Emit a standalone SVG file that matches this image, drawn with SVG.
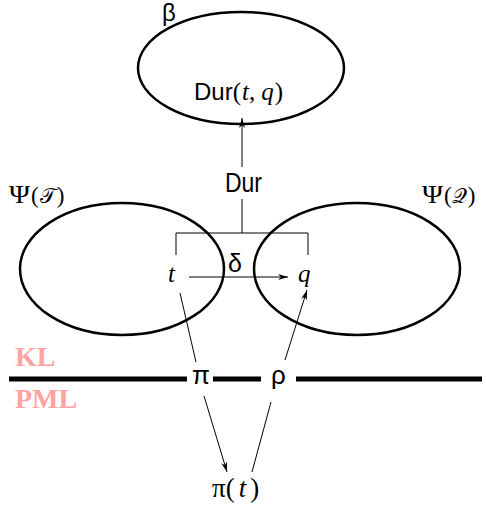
<svg xmlns="http://www.w3.org/2000/svg" width="486" height="508" viewBox="0 0 486 508">
  <style>
    .region { fill: none; stroke: #000; stroke-width: 2.5; }
    .thin { fill: none; stroke: #000; stroke-width: 1; }
    .arrow { fill: none; stroke: #000; stroke-width: 1; marker-end: url(#head); }
    .layer { fill: none; stroke: #000; stroke-width: 5; }
    .sans { font-family: "Liberation Sans", Arial, sans-serif; fill: #000; }
    .serif { font-family: "Liberation Serif", "Times New Roman", serif; fill: #000; }
    .math { font-family: "Liberation Serif", "Times New Roman", serif; font-style: italic; fill: #000; }
    .script { font-family: "DejaVu Serif", "Liberation Serif", serif; font-style: normal; fill: #000; }
    .level { font-family: "Liberation Serif", "Times New Roman", serif; font-weight: bold; font-size: 28px; fill: #ffa3a3; }
  </style>
  <defs>
    <marker id="head" viewBox="0 0 10 6" refX="10" refY="3" markerWidth="10" markerHeight="6" markerUnits="userSpaceOnUse" orient="auto">
      <path d="M0,0 L10,3 L0,6 L3,3 Z" fill="#000"/>
    </marker>
  </defs>

  <!-- beta region with the duration value -->
  <g id="beta">
    <ellipse class="region" cx="241" cy="68" rx="103" ry="56"/>
    <text class="sans" x="162" y="21" font-size="24">β</text>
    <text class="serif" x="194" y="100" font-size="25"><tspan class="sans" font-size="24">Dur</tspan>(<tspan class="math" dx="1">t</tspan>,<tspan class="math" dx="6">q</tspan><tspan dx="1">)</tspan></text>
  </g>

  <!-- Psi(T) region -->
  <g id="psiT">
    <ellipse class="region" cx="122" cy="269" rx="102" ry="66"/>
    <text class="serif" x="9" y="203" font-size="25" textLength="21" lengthAdjust="spacingAndGlyphs">Ψ</text>
    <text class="serif" x="31" y="203" font-size="23">(<tspan class="script" font-size="21" dx="1">𝒯</tspan><tspan dx="1">)</tspan></text>
    <text class="math" x="168" y="282" font-size="25">t</text>
  </g>

  <!-- Psi(Q) region -->
  <g id="psiQ">
    <ellipse class="region" cx="357" cy="269" rx="103" ry="66"/>
    <text class="serif" x="422" y="203" font-size="25" textLength="21" lengthAdjust="spacingAndGlyphs">Ψ</text>
    <text class="serif" x="444" y="203" font-size="23">(<tspan class="script" font-size="21">𝒬</tspan><tspan dx="1">)</tspan></text>
    <text class="math" x="298" y="282" font-size="25">q</text>
  </g>

  <!-- pi(t) target -->
  <g id="pit">
    <text class="serif" x="212" y="497" font-size="27">π(<tspan class="math" dx="4">t</tspan><tspan dx="4">)</tspan></text>
  </g>

  <!-- level labels -->
  <g id="levels">
    <text class="level" x="15" y="366">KL</text>
    <text class="level" x="15" y="408">PML</text>
  </g>

  <!-- connectors -->
  <g id="connectors">
    <!-- layer boundary, broken around the map labels -->
    <line class="layer" x1="9" y1="379" x2="187" y2="379"/>
    <line class="layer" x1="213" y1="379" x2="261" y2="379"/>
    <line class="layer" x1="296" y1="379" x2="482" y2="379"/>
    <text class="sans" x="192" y="384" font-size="26">π</text>
    <text class="sans" x="271" y="384" font-size="26">ρ</text>

    <!-- bracket over t and q feeding Dur -->
    <path class="thin" d="M176,255 V233 H308 V255"/>
    <line class="thin" x1="242" y1="233" x2="242" y2="199"/>
    <text class="sans" x="225" y="192" font-size="27" textLength="37" lengthAdjust="spacingAndGlyphs">Dur</text>
    <line class="arrow" x1="242" y1="167" x2="242" y2="118"/>

    <!-- delta: t to q -->
    <text class="sans" x="228" y="272" font-size="25">δ</text>
    <line class="arrow" x1="189" y1="277" x2="288" y2="277"/>

    <!-- pi: t down to pi(t) -->
    <line class="thin" x1="180" y1="293" x2="196" y2="362"/>
    <line class="arrow" x1="204" y1="396" x2="227" y2="472"/>

    <!-- rho: pi(t) up to q -->
    <line class="thin" x1="252" y1="472" x2="271" y2="402"/>
    <line class="arrow" x1="285" y1="360" x2="307" y2="290"/>
  </g>
</svg>
